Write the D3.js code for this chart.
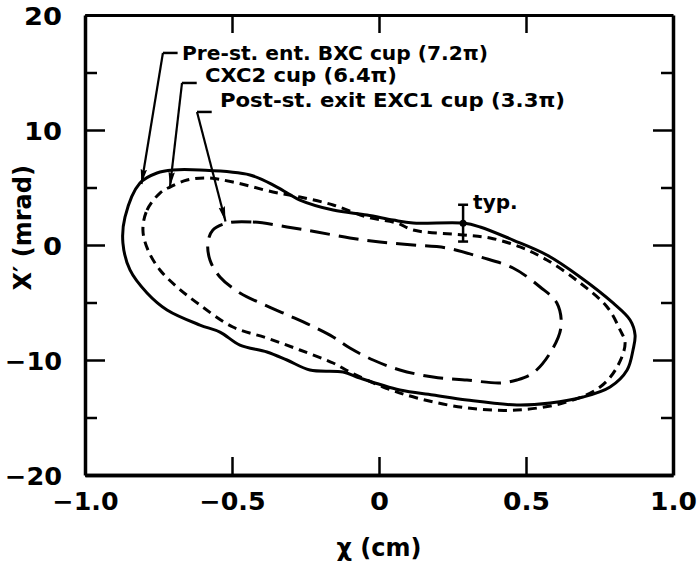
<!DOCTYPE html>
<html>
<head>
<meta charset="utf-8">
<script src="https://cdn.jsdelivr.net/npm/d3@7"></script>
<style>
  html, body { margin: 0; padding: 0; background: #fff; }
  svg { display: block; }
  text { font-family: "DejaVu Sans", sans-serif; fill: #000; }
</style>
</head>
<body>
<svg id="chart" width="699" height="562"></svg>
<script>
// Phase-space emittance contours, x (cm) vs x' (mrad)

// Pre-st. ent. BXC cup (7.2π) — solid contour
const bxcX = [-0.871,-0.864,-0.813,-0.755,-0.701,-0.609,-0.439,-0.347,-0.269,-0.156,-0.041,0.048,0.116,0.286,0.344,0.456,0.571,0.684,0.796,0.854,0.871,0.864,0.844,0.786,0.694,0.582,0.469,0.299,0.184,0.071,-0.065,-0.122,-0.235,-0.313,-0.381,-0.473,-0.541,-0.609,-0.721,-0.789,-0.847];
const bxcY = [0.17,2.43,5.39,6.26,6.52,6.52,6.09,5.04,3.91,3.04,2.61,2.17,1.91,1.91,1.57,0.43,-0.87,-2.78,-5.04,-6.52,-7.83,-9.13,-10.87,-12.35,-13.22,-13.74,-13.91,-13.48,-13.04,-12.61,-11.57,-11.04,-10.87,-10.00,-9.30,-8.70,-7.57,-6.96,-5.65,-4.17,-2.17];

// CXC2 cup (6.4π) — short-dashed contour
const cxcX = [-0.803,-0.789,-0.745,-0.711,-0.653,-0.585,-0.497,-0.361,-0.269,-0.156,-0.041,0.061,0.116,0.286,0.378,0.480,0.571,0.684,0.776,0.820,0.837,0.810,0.752,0.639,0.469,0.299,0.129,0.014,-0.099,-0.156,-0.269,-0.381,-0.497,-0.609,-0.687,-0.745,-0.786];
const cxcY = [1.30,3.04,4.52,5.04,5.65,5.83,5.48,4.61,4.17,3.48,2.43,1.91,1.30,0.87,0.61,-0.17,-1.30,-3.30,-5.39,-7.39,-8.52,-10.61,-12.35,-13.65,-14.35,-14.17,-13.30,-12.35,-11.04,-10.26,-9.13,-8.09,-7.13,-5.22,-3.65,-2.17,-0.43];

// Post-st. exit EXC1 cup (3.3π) — long-dashed contour
const excX = [-0.517,-0.429,-0.313,-0.211,-0.099,0.003,0.116,0.231,0.344,0.456,0.548,0.605,0.619,0.582,0.524,0.469,0.412,0.299,0.184,0.071,-0.020,-0.099,-0.156,-0.235,-0.303,-0.388,-0.473,-0.541,-0.575,-0.582,-0.565];
const excY = [1.91,2.00,1.57,1.13,0.61,0.26,0.00,-0.26,-1.04,-2.00,-3.65,-5.04,-7.13,-9.39,-11.13,-11.74,-12.00,-11.74,-11.48,-10.87,-10.00,-8.96,-8.00,-6.96,-6.17,-5.22,-4.17,-2.78,-1.30,0.17,1.30];

// Axis ticks and labels
const xTicks = [-1.0, -0.5, 0, 0.5, 1.0];
const xTickLabels = ["\u22121.0", "\u22120.5", "0", "0.5", "1.0"];
const xInnerTicks = [-0.5, 0, 0.5];
const yTicks = [-20, -10, 0, 10, 20];
const yTickLabels = ["\u221220", "\u221210", "0", "10", "20"];
const yMinorTicks = [-15, -5, 5, 15];

// Legend callouts: label text, label anchor, leader corner and arrow tip (data units)
const calloutText = ["Pre-st. ent. BXC cup (7.2\u03c0)", "CXC2 cup (6.4\u03c0)", "Post-st. exit EXC1 cup (3.3\u03c0)"];
const calloutLabelXY = [[-0.670, 16.09], [-0.592, 14.17], [-0.541, 12.0]];
const calloutCornerXY = [[-0.735, 16.70], [-0.670, 14.09], [-0.619, 11.57]];
const calloutTipXY = [[-0.808, 5.30], [-0.711, 5.05], [-0.522, 2.05]];
const calloutWidths = [306, 192, 345];

// Typical error bar
const errX = 0.286, errY = 1.9, errHalf = 1.6;
const errLabel = "typ.";

const svg = d3.select("#chart");
const x = d3.scaleLinear().domain([-1, 1]).range([85, 673]);
const y = d3.scaleLinear().domain([-20, 20]).range([475, 15]);

// Arrowhead marker for callout leaders
svg.append("defs").append("marker")
  .attr("id", "arrow")
  .attr("viewBox", "0 0 15 8")
  .attr("refX", 15).attr("refY", 4)
  .attr("markerWidth", 15).attr("markerHeight", 8)
  .attr("markerUnits", "userSpaceOnUse")
  .attr("orient", "auto")
  .append("path").attr("d", "M0,0.8 L15,4 L0,7.2 L2,4 Z").attr("fill", "#000");

// Tick label widths follow the wide lettering of the figure
const labelWidth = s => s.replace("\u2212", "").replace(".", "").length * 19
  + (s.includes("\u2212") ? 19 : 0) + (s.includes(".") ? 9 : 0);

function styleAxis(g) {
  g.select(".domain").attr("stroke", "#000").attr("stroke-width", 3.5);
  g.selectAll(".tick line").attr("stroke", "#000").attr("stroke-width", 2.5);
  g.selectAll(".tick text")
    .attr("font-size", 25).attr("font-weight", "bold")
    .style("font-family", "'DejaVu Sans', sans-serif")
    .attr("textLength", function () { return labelWidth(this.textContent); })
    .attr("lengthAdjust", "spacingAndGlyphs");
}

svg.append("g").attr("transform", `translate(0,${y(-20)})`)
  .call(d3.axisBottom(x).tickValues(xTicks).tickSizeInner(0).tickSizeOuter(0).tickPadding(17)
    .tickFormat((d, i) => xTickLabels[i]))
  .call(styleAxis);

svg.append("g").attr("transform", `translate(0,${y(-20)})`)
  .call(d3.axisBottom(x).tickValues(xInnerTicks).tickSizeInner(-18).tickSizeOuter(0).tickFormat(""))
  .call(styleAxis);

svg.append("g").attr("transform", `translate(0,${y(20)})`)
  .call(d3.axisTop(x).tickValues(xInnerTicks).tickSizeInner(-18).tickSizeOuter(0).tickFormat(""))
  .call(styleAxis)
  .call(g => g.select(".domain").attr("stroke-width", 3));

svg.append("g").attr("transform", `translate(${x(-1)},0)`)
  .call(d3.axisLeft(y).tickValues(yTicks).tickSizeInner(-20).tickSizeOuter(0).tickPadding(23)
    .tickFormat((d, i) => yTickLabels[i]))
  .call(styleAxis)
  .call(g => g.selectAll(".tick text").attr("dy", "0.36em"));

svg.append("g").attr("transform", `translate(${x(-1)},0)`)
  .call(d3.axisLeft(y).tickValues(yMinorTicks).tickSizeInner(-12).tickSizeOuter(0).tickFormat(""))
  .call(styleAxis).call(g => g.select(".domain").remove());

svg.append("g").attr("transform", `translate(${x(1)},0)`)
  .call(d3.axisRight(y).tickValues(yTicks).tickSizeInner(-20).tickSizeOuter(0).tickFormat(""))
  .call(styleAxis);

svg.append("g").attr("transform", `translate(${x(1)},0)`)
  .call(d3.axisRight(y).tickValues(yMinorTicks).tickSizeInner(-12).tickSizeOuter(0).tickFormat(""))
  .call(styleAxis).call(g => g.select(".domain").remove());

// Axis titles
svg.append("text")
  .attr("transform", `translate(31,${y(1.5)}) rotate(-90)`)
  .attr("text-anchor", "middle")
  .attr("font-size", 24).attr("font-weight", "bold")
  .text("X\u2032 (mrad)");

svg.append("text")
  .attr("x", x(0)).attr("y", 556)
  .attr("text-anchor", "middle")
  .attr("font-size", 24).attr("font-weight", "bold")
  .text("\u03c7 (cm)");

// Contours
const contours = [
  { xs: bxcX, ys: bxcY, dash: null },
  { xs: cxcX, ys: cxcY, dash: "9,6" },
  { xs: excX, ys: excY, dash: "20,9" }
];
const line = d3.line().x(d => x(d[0])).y(d => y(d[1])).curve(d3.curveCatmullRomClosed.alpha(0.5));

svg.append("g").selectAll("path.contour")
  .data(contours).join("path")
  .attr("class", "contour")
  .attr("d", c => line(c.xs.map((v, i) => [v, c.ys[i]])))
  .attr("fill", "none")
  .attr("stroke", "#000")
  .attr("stroke-width", 3)
  .attr("stroke-linejoin", "round")
  .attr("stroke-dasharray", c => c.dash);

// Callouts
const callouts = svg.append("g");
calloutText.forEach((t, i) => {
  const [lx, ly] = calloutLabelXY[i];
  const [cx, cy] = calloutCornerXY[i];
  const [tx, ty] = calloutTipXY[i];
  callouts.append("path")
    .attr("d", `M${x(cx + 0.05)},${y(cy)} L${x(cx)},${y(cy)}`)
    .attr("stroke", "#000").attr("stroke-width", 2.5).attr("fill", "none");
  callouts.append("line")
    .attr("x1", x(cx)).attr("y1", y(cy)).attr("x2", x(tx)).attr("y2", y(ty))
    .attr("stroke", "#000").attr("stroke-width", 2.2)
    .attr("marker-end", "url(#arrow)");
  callouts.append("text")
    .attr("x", x(lx)).attr("y", y(ly))
    .attr("font-size", 20).attr("font-weight", "bold")
    .attr("textLength", calloutWidths[i]).attr("lengthAdjust", "spacingAndGlyphs")
    .text(t);
});

// Typical error bar
const eb = svg.append("g").attr("stroke", "#000").attr("stroke-width", 2.5);
eb.append("line").attr("x1", x(errX)).attr("x2", x(errX)).attr("y1", y(errY + errHalf)).attr("y2", y(errY - errHalf));
[errY + errHalf, errY - errHalf].forEach(v => {
  eb.append("line").attr("x1", x(errX) - 5).attr("x2", x(errX) + 5).attr("y1", y(v)).attr("y2", y(v));
});
svg.append("circle").attr("cx", x(errX)).attr("cy", y(errY)).attr("r", 3.5).attr("fill", "#000");
svg.append("text")
  .attr("x", x(errX) + 10).attr("y", y(errY + 1.2))
  .attr("font-size", 20).attr("font-weight", "bold")
  .text(errLabel);
</script>
</body>
</html>
